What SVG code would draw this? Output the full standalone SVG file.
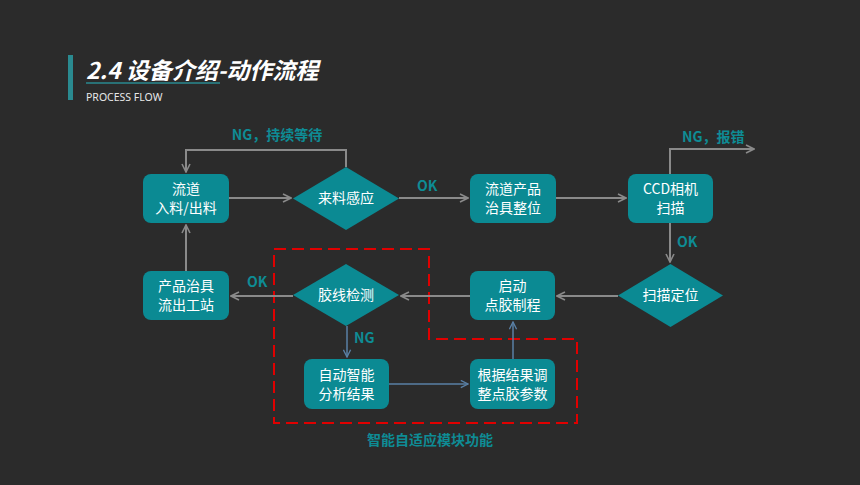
<svg xmlns="http://www.w3.org/2000/svg" width="860" height="485" viewBox="0 0 860 485">
<defs>
<style>
.bg{fill:#2b2b2b}
.box{fill:#0b8a93}
.nt{fill:#ffffff;font-family:"Noto Sans CJK SC","Noto Sans",sans-serif;font-size:14px;text-anchor:middle}
.lbl{fill:#0e8c95;font-family:"Noto Sans CJK SC","Noto Sans",sans-serif;font-size:14px;font-weight:bold}
.gc{fill:none;stroke:#8a8a8a;stroke-width:2}
.bc{fill:none;stroke:#5a80a6;stroke-width:1.5}
</style>
<marker id="ag" viewBox="0 0 10 10" refX="9" refY="5" markerWidth="5" markerHeight="5" orient="auto" markerUnits="strokeWidth">
<path d="M1,1 L9,5 L1,9" fill="none" stroke="#8a8a8a" stroke-width="1.6"/>
</marker>
<marker id="ab" viewBox="0 0 10 10" refX="9" refY="5" markerWidth="6" markerHeight="6" orient="auto" markerUnits="strokeWidth">
<path d="M1,1 L9,5 L1,9" fill="none" stroke="#5a80a6" stroke-width="1.5"/>
</marker>
</defs>
<rect class="bg" x="0" y="0" width="860" height="485"/>
<g id="title">
<rect x="68" y="55" width="5" height="45" fill="#2a8a90"/>
<text x="86" y="79" font-family="'Noto Sans CJK SC','Noto Sans',sans-serif" font-size="23" font-weight="bold" font-style="italic" fill="#ffffff">2.4 设备介绍-动作流程</text>
<line x1="86" y1="83" x2="220" y2="83" stroke="#2a8a90" stroke-width="1.5"/>
<text x="86" y="101" font-family="'Noto Sans','Liberation Sans',sans-serif" font-size="10.5" fill="#e8e8e8">PROCESS FLOW</text>
</g>
<g id="region">
<path d="M274,249 H429 V339 H577 V423 H274 Z" fill="none" stroke="#e00000" stroke-width="2" stroke-dasharray="12,6"/>
<text class="lbl" x="430" y="445" text-anchor="middle">智能自适应模块功能</text>
</g>
<g id="connectors">
<path class="gc" d="M346,167 V150 H186 V172" marker-end="url(#ag)"/>
<path class="gc" d="M229,198 H291" marker-end="url(#ag)"/>
<path class="gc" d="M399,198 H468" marker-end="url(#ag)"/>
<path class="gc" d="M556,198 H626" marker-end="url(#ag)"/>
<path class="gc" d="M670,174 V149 H754" marker-end="url(#ag)"/>
<path class="gc" d="M670,223 V262" marker-end="url(#ag)"/>
<path class="gc" d="M618,296 H557" marker-end="url(#ag)"/>
<path class="gc" d="M470,296 H401" marker-end="url(#ag)"/>
<path class="gc" d="M293,296 H231" marker-end="url(#ag)"/>
<path class="gc" d="M186,271 V225" marker-end="url(#ag)"/>
<path class="bc" d="M347,326 V357" marker-end="url(#ab)"/>
<path class="bc" d="M389,384 H468" marker-end="url(#ab)"/>
<path class="bc" d="M513,359 V322" marker-end="url(#ab)"/>
<text class="lbl" x="277" y="140" text-anchor="middle">NG，持续等待</text>
<text class="lbl" x="417" y="191">OK</text>
<text class="lbl" x="682" y="142">NG，报错</text>
<text class="lbl" x="677" y="247">OK</text>
<text class="lbl" x="247" y="287">OK</text>
<text class="lbl" x="354" y="343">NG</text>
</g>
<g id="n1"><rect class="box" x="143" y="174" width="86" height="49" rx="8"/><text class="nt" x="186" y="194">流道</text><text class="nt" x="186" y="213">入料/出料</text></g>
<g id="n2"><polygon class="box" points="293,198.5 346,167 399,198.5 346,230"/><text class="nt" x="346" y="203">来料感应</text></g>
<g id="n3"><rect class="box" x="470" y="174" width="86" height="49" rx="8"/><text class="nt" x="513" y="194">流道产品</text><text class="nt" x="513" y="213">治具整位</text></g>
<g id="n4"><rect class="box" x="628" y="174" width="85" height="49" rx="8"/><text class="nt" x="670.5" y="194">CCD相机</text><text class="nt" x="670.5" y="213">扫描</text></g>
<g id="n5"><polygon class="box" points="618,295.5 670.5,264 723,295.5 670.5,327"/><text class="nt" x="670.5" y="300">扫描定位</text></g>
<g id="n6"><rect class="box" x="470" y="271" width="85" height="49" rx="8"/><text class="nt" x="512.5" y="291">启动</text><text class="nt" x="512.5" y="310">点胶制程</text></g>
<g id="n7"><polygon class="box" points="293,295 346,264 399,295 346,326"/><text class="nt" x="346" y="300">胶线检测</text></g>
<g id="n8"><rect class="box" x="143" y="271" width="86" height="49" rx="8"/><text class="nt" x="186" y="291">产品治具</text><text class="nt" x="186" y="310">流出工站</text></g>
<g id="n9"><rect class="box" x="304" y="359" width="85" height="50" rx="8"/><text class="nt" x="346.5" y="380">自动智能</text><text class="nt" x="346.5" y="399">分析结果</text></g>
<g id="n10"><rect class="box" x="470" y="359" width="85" height="50" rx="8"/><text class="nt" x="512.5" y="380">根据结果调</text><text class="nt" x="512.5" y="399">整点胶参数</text></g>
</svg>
